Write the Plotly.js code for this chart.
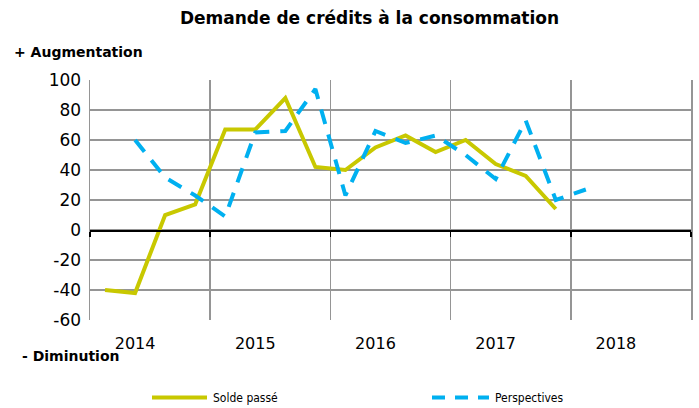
<!DOCTYPE html>
<html><head><meta charset="utf-8">
<script src="https://cdn.plot.ly/plotly-3.0.1.min.js"></script>
<style>html,body{margin:0;padding:0;background:#fff}#chart{width:699px;height:408px}</style>
</head><body><div id="chart"></div>
<script>
// ---- data ----
const quarters = ['T1 2014','T2 2014','T3 2014','T4 2014','T1 2015','T2 2015','T3 2015','T4 2015',
                  'T1 2016','T2 2016','T3 2016','T4 2016','T1 2017','T2 2017','T3 2017','T4 2017',
                  'T1 2018','T2 2018','T3 2018','T4 2018'];
const years = ['2014','2015','2016','2017','2018'];
const soldePasse = [-40, -42, 10, 17, 67, 67, 88, 42, 40, 55, 63, 52, 60, 44, 36, 14];
const perspectives = [null, 60, 35, 23, 9, 65, 66, 94, 23, 66, 58, 63, 50, 34, 73, 20, 27];
const seriesNames = ['Solde passé', 'Perspectives'];
const yTicks = [-60, -40, -20, 0, 20, 40, 60, 80, 100];
const colors = ['#C8C800', '#00B0F0'];

// ---- build ----
const idx = quarters.map((q, i) => i);
const n = quarters.length;
const yearLabelPos = years.map((y, i) => i * 4 + 1);
const yearBounds = [-0.5].concat(years.map((y, i) => i * 4 + 3.5));
const xRange = [-0.5, n - 0.5];

const traces = [
  {x: idx.slice(0, soldePasse.length), y: soldePasse, name: seriesNames[0], type: 'scatter', mode: 'lines',
   line: {color: colors[0], width: 4}, xaxis: 'x', yaxis: 'y', hoverinfo: 'skip'},
  {x: idx.slice(0, perspectives.length), y: perspectives, name: seriesNames[1], type: 'scatter', mode: 'lines',
   line: {color: colors[1], width: 4, dash: '15px,11px'}, xaxis: 'x', yaxis: 'y', hoverinfo: 'skip', connectgaps: false}
];

const F = 'DejaVu Sans, Verdana, sans-serif';
const FC = 'DejaVu Sans Condensed, Liberation Sans Narrow, DejaVu Sans, sans-serif';
const L = 90, R = 691, T = 80, B = 320;
const px = v => (v - L) / (R - L);
const py = v => (B - v) / (B - T);

const layout = {
  width: 699, height: 408,
  margin: {l: L, r: 699 - R, t: T, b: 408 - B, pad: 0},
  paper_bgcolor: '#fff', plot_bgcolor: '#fff',
  showlegend: false,
  title: {text: '<b>Demande de crédits à la consommation</b>', font: {family: F, size: 17, color: '#000'},
          x: 369.5 / 699, xanchor: 'center', xref: 'container', y: 1 - 18 / 408, yanchor: 'middle', yref: 'container'},
  xaxis: {range: xRange, tickvals: yearLabelPos, ticktext: years, showgrid: false, zeroline: false,
          showline: false, ticks: '', tickfont: {family: F, size: 16, color: '#000'}, ticklabelstandoff: 12, fixedrange: true},
  xaxis2: {range: xRange, overlaying: 'x', anchor: 'free', position: 0.375, side: 'bottom',
           tickvals: yearBounds, showticklabels: false, showgrid: true, gridcolor: '#959595', gridwidth: 1.5,
           showline: true, linecolor: '#000', linewidth: 1.5, ticks: 'outside', ticklen: 5, tickcolor: '#000', tickwidth: 1.5,
           zeroline: false, fixedrange: true},
  yaxis: {range: [-60, 100], tickvals: yTicks, ticktext: yTicks.map(String), gridcolor: '#959595', gridwidth: 1.5,
          showline: true, mirror: true, linecolor: '#959595', linewidth: 1.5, ticks: '',
          zeroline: false,
          tickfont: {family: F, size: 17, color: '#000'}, ticklabelstandoff: 4, fixedrange: true},
  shapes: [
    {type: 'line', xref: 'paper', yref: 'paper', x0: px(152), x1: px(207), y0: py(397.5), y1: py(397.5),
     line: {color: colors[0], width: 4}},
    {type: 'line', xref: 'paper', yref: 'paper', x0: px(432), x1: px(489), y0: py(397.5), y1: py(397.5),
     line: {color: colors[1], width: 4, dash: '13px,10px'}}
  ],
  annotations: [
    {text: '<b>+ Augmentation</b>', xref: 'paper', yref: 'paper', x: px(12), y: py(52), xanchor: 'left', yanchor: 'middle',
     showarrow: false, font: {family: F, size: 14, color: '#000'}},
    {text: '<b>- Diminution</b>', xref: 'paper', yref: 'paper', x: px(20), y: py(356), xanchor: 'left', yanchor: 'middle',
     showarrow: false, font: {family: F, size: 14, color: '#000'}},
    {text: seriesNames[0], xref: 'paper', yref: 'paper', x: px(211), y: py(398), xanchor: 'left', yanchor: 'middle',
     showarrow: false, font: {family: FC, size: 12, color: '#000'}},
    {text: seriesNames[1], xref: 'paper', yref: 'paper', x: px(493), y: py(398), xanchor: 'left', yanchor: 'middle',
     showarrow: false, font: {family: FC, size: 12, color: '#000'}}
  ]
};

// an invisible trace keeps xaxis2 active
traces.push({x: xRange, y: [null, null], xaxis: 'x2', yaxis: 'y', type: 'scatter', mode: 'lines', showlegend: false, hoverinfo: 'skip'});

Plotly.newPlot('chart', traces, layout, {staticPlot: true, displayModeBar: false});
</script>
</body></html>
